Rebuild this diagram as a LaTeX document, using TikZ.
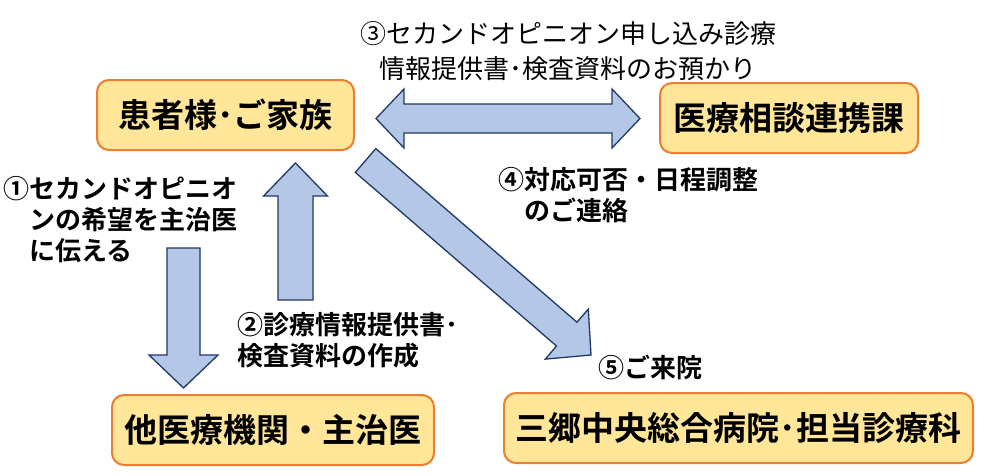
\documentclass[tikz,border=0pt]{standalone}
\usepackage{fontspec}
\setmainfont{Noto Sans CJK JP}[BoldFont={Noto Sans CJK JP Bold}]
\definecolor{boxfill}{HTML}{FFE699}
\definecolor{boxline}{HTML}{ED7D31}
\definecolor{arrfill}{HTML}{B4C7E7}
\definecolor{arrline}{HTML}{203864}
\newcommand\myboxfont{\fontsize{33}{40}\selectfont\bfseries}
\newcommand\mylblfont{\fontsize{26}{31}\selectfont\bfseries}
\newcommand\mylblfontr{\fontsize{26}{35}\selectfont}
\begin{document}
\begin{tikzpicture}[x=1pt,y=-1pt,
  infobox/.style={draw=boxline, fill=boxfill, line width=2pt, rounded corners=12pt,
    minimum height=70pt, inner sep=0pt, font=\myboxfont},
  barrow/.style={draw=arrline, fill=arrfill, line width=1.3pt, line join=miter},
  lbl/.style={inner sep=0pt, font=\mylblfont, align=left, anchor=base west}]
\useasboundingbox (0,0) rectangle (985,475);
% boxes
\node[infobox, minimum width=257pt] (fam) at (225.5,115) {患者様･ご家族};
\node[infobox, minimum width=258pt] (soudan) at (789,118) {医療相談連携課};
\node[infobox, minimum width=322pt] (other) at (273,430) {他医療機関・主治医};
\node[infobox, minimum width=469pt] (misato) at (738.5,428) {三郷中央総合病院･担当診療科};
% block arrows
\draw[barrow] (376,118.5) -- (404,89) -- (404,104) -- (612,104) -- (612,89) -- (640,118.5)
  -- (612,148) -- (612,133) -- (404,133) -- (404,148) -- cycle;
\draw[barrow] (295.5,163) -- (327.5,196) -- (313,196) -- (313,300) -- (278,300) -- (278,196)
  -- (263.5,196) -- cycle;
\draw[barrow] (167,248) -- (200,248) -- (200,355) -- (218,355) -- (183.5,388) -- (149,355)
  -- (167,355) -- cycle;
\draw[barrow] (375.8,148.6) -- (577,322.2) -- (588.3,309.1) -- (591,355) -- (545.3,359.1)
  -- (556.5,346) -- (355.3,172.4) -- cycle;
% labels (base anchor = baseline of the last line)
\node[inner sep=0pt, font=\mylblfontr, align=center, anchor=base] (l3) at (568,78)
  {③セカンドオピニオン申し込み診療\\情報提供書･検査資料のお預かり};
\node[lbl] (l1) at (3,260) {①セカンドオピニオ\\\hphantom{①}ンの希望を主治医\\\hphantom{①}に伝える};
\node[lbl] (l2) at (237,365) {②診療情報提供書･\\検査資料の作成};
\node[lbl] (l4) at (498,220) {④対応可否・日程調整\\\hphantom{④}のご連絡};
\node[lbl] (l5) at (598,377) {⑤ご来院};
\end{tikzpicture}
\end{document}
